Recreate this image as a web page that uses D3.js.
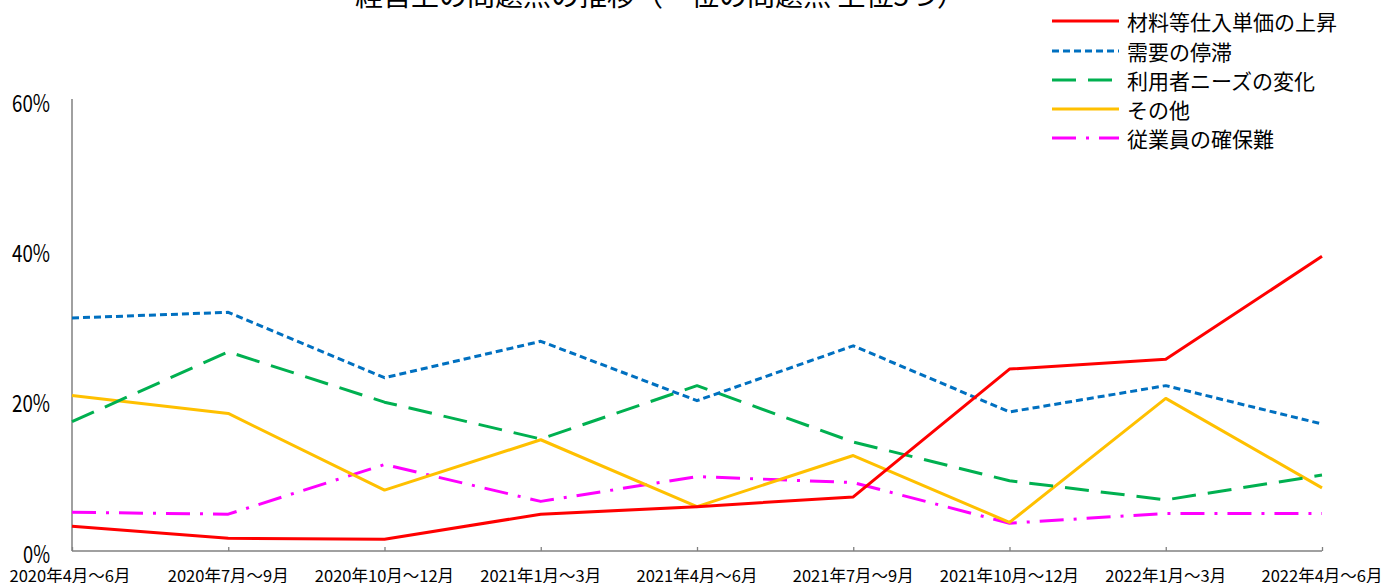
<!DOCTYPE html>
<html><head><meta charset="utf-8">
<script src="https://cdn.jsdelivr.net/npm/d3@7"></script>
<style>body{margin:0;background:#fff;}svg{display:block;font-family:"Noto Sans CJK JP",sans-serif;}</style>
</head><body><svg id="c" width="1385" height="583"></svg>
<script>
const title = "経営上の問題点の推移（一位の問題点 上位5つ）";
const categories = ["2020年4月～6月","2020年7月～9月","2020年10月～12月","2021年1月～3月","2021年4月～6月","2021年7月～9月","2021年10月～12月","2022年1月～3月","2022年4月～6月"];
const seriesNames = ["材料等仕入単価の上昇","需要の停滞","利用者ニーズの変化","その他","従業員の確保難"];
const material = [3.3, 1.7, 1.55, 4.9, 5.9, 7.2, 24.2, 25.5, 39.2];
const demand = [31.0, 31.75, 23.05, 27.9, 20.0, 27.3, 18.5, 22.0, 16.9];
const needs = [17.2, 26.5, 19.8, 14.9, 22.0, 14.5, 9.35, 6.8, 10.1];
const other = [20.7, 18.3, 8.1, 14.8, 5.9, 12.7, 3.8, 20.3, 8.4];
const staff = [5.15, 4.9, 11.5, 6.6, 9.9, 9.1, 3.7, 5.0, 5.0];
const yTicks = [0, 20, 40, 60];
const yTickLabels = ["0%","20%","40%","60%"];

const colors = ["#FF0000","#0070C0","#00B050","#FFC000","#FF00FF"];
const dashes = [null, "7,4", "24,12", null, "24,10,3,10"];
const values = [material, demand, needs, other, staff];

const svg = d3.select("#c");
const pLeft = 72, pRight = 1322, pTop = 100, pBottom = 551;
const x = d3.scalePoint().domain(categories).range([pLeft, pRight]);
const y = d3.scaleLinear().domain([0, 60]).range([pBottom, pTop]);

// title
svg.append("text").attr("x", 660).attr("y", 6).attr("text-anchor","middle")
  .attr("font-size", 27).attr("textLength", 610).attr("lengthAdjust","spacingAndGlyphs")
  .attr("fill","#000").text(title);

// axes
const xAxis = d3.axisBottom(x).tickSize(-4).tickFormat(() => "");
const gx = svg.append("g").attr("transform", `translate(0,${pBottom})`).call(xAxis);
gx.select(".domain").attr("stroke","#808080").attr("stroke-width",1.5).attr("d", `M${pLeft},0H${pRight}`);
gx.selectAll(".tick line").attr("stroke","#808080").attr("stroke-width",1.3);
gx.selectAll(".tick text").remove();

svg.append("line").attr("x1", pLeft).attr("x2", pLeft).attr("y1", y(60)-1).attr("y2", pBottom)
  .attr("stroke","#808080").attr("stroke-width",1.5);

// x labels
svg.append("g").selectAll("text").data(categories).join("text")
  .attr("x", d => x(d) - (d === categories[0] ? 2 : 0)).attr("y", 574.5)
  .attr("text-anchor","middle").attr("dominant-baseline","central")
  .attr("font-size", 16.5).attr("fill","#000").text(d => d);

// y labels
svg.append("g").selectAll("text").data(yTicks).join("text")
  .attr("x", 50).attr("y", d => y(d) + 1).attr("text-anchor","end")
  .attr("dominant-baseline","central").attr("font-size", 24)
  .attr("textLength", (d,i) => yTickLabels[i].length === 2 ? 27 : 38)
  .attr("lengthAdjust","spacingAndGlyphs")
  .attr("fill","#000").text((d,i) => yTickLabels[i]);

// lines
const line = d3.line().x((d,i) => x(categories[i])).y(d => y(d));
const order = [4, 3, 2, 1, 0];
order.forEach(k => {
  svg.append("path").datum(values[k]).attr("d", line)
    .attr("fill","none").attr("stroke", colors[k]).attr("stroke-width", 3)
    .attr("stroke-dasharray", dashes[k]).attr("stroke-linejoin","round");
});

// legend
const legY = [21, 51, 80, 109, 138];
const lg = svg.append("g");
seriesNames.forEach((n, i) => {
  lg.append("line").attr("x1", 1052).attr("x2", 1119).attr("y1", legY[i]).attr("y2", legY[i])
    .attr("stroke", colors[i]).attr("stroke-width", 3).attr("stroke-dasharray", dashes[i]);
  lg.append("text").attr("x", 1127).attr("y", legY[i]).attr("dominant-baseline","central")
    .attr("font-size", 21).attr("fill","#000").text(n);
});
</script></body></html>
